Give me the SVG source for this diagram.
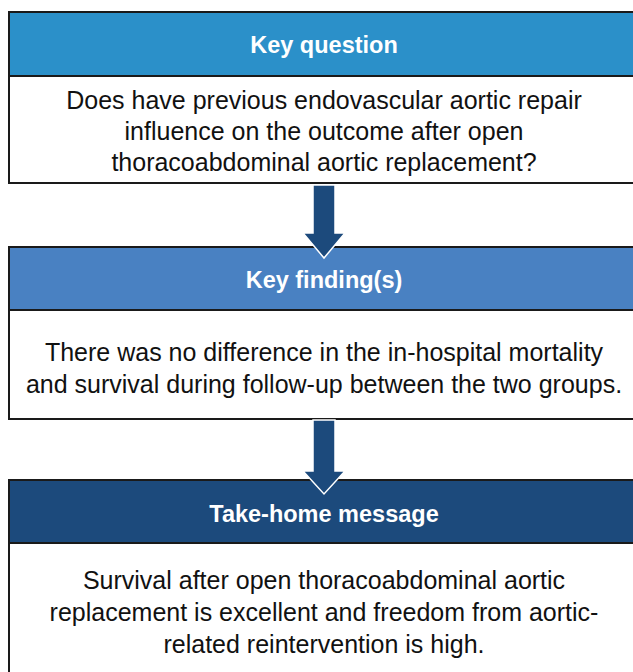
<svg xmlns="http://www.w3.org/2000/svg" width="633" height="672" viewBox="0 0 633 672">
<style>
.box{fill:#fff;stroke:#1a1a1a;stroke-width:2}
.hd{stroke:#1a1a1a;stroke-width:2}
.ht{font-family:"Liberation Sans",Arial,sans-serif;font-weight:bold;font-size:23.5px;fill:#fff;text-anchor:middle}
.bt{font-family:"Liberation Sans",Arial,sans-serif;font-size:25px;fill:#111;text-anchor:middle}
.arr{fill:#1c4a7c;stroke:#fff;stroke-width:1.5;stroke-linejoin:miter}
</style>
<rect width="633" height="672" fill="#fff"/>
<g id="node-question">
<rect class="box" x="9" y="12" width="630" height="171"/>
<rect class="hd" x="9" y="12" width="630" height="64" fill="#2b90c9"/>
<text class="ht" x="324" y="53">Key question</text>
<text class="bt" x="324" y="109">Does have previous endovascular aortic repair</text>
<text class="bt" x="324" y="140">influence on the outcome after open</text>
<text class="bt" x="324" y="171">thoracoabdominal aortic replacement?</text>
</g>
<g id="node-finding">
<rect class="box" x="9" y="247" width="630" height="172"/>
<rect class="hd" x="9" y="247" width="630" height="63" fill="#4981c2"/>
<text class="ht" x="324" y="288">Key finding(s)</text>
<text class="bt" x="324" y="361">There was no difference in the in-hospital mortality</text>
<text class="bt" x="324" y="393">and survival during follow-up between the two groups.</text>
</g>
<g id="node-message">
<rect class="box" x="9" y="480" width="630" height="200"/>
<rect class="hd" x="9" y="480" width="630" height="63" fill="#1c4a7c"/>
<text class="ht" x="324" y="522">Take-home message</text>
<text class="bt" x="324" y="589">Survival after open thoracoabdominal aortic</text>
<text class="bt" x="324" y="621">replacement is excellent and freedom from aortic-</text>
<text class="bt" x="324" y="653">related reintervention is high.</text>
</g>
<g id="connectors">
<polygon class="arr" points="313,185 335,185 335,233 345,233 324,258 303,233 313,233"/>
<polygon class="arr" points="313,420 335,420 335,471 345,471 324,494 303,471 313,471"/>
</g>
</svg>
